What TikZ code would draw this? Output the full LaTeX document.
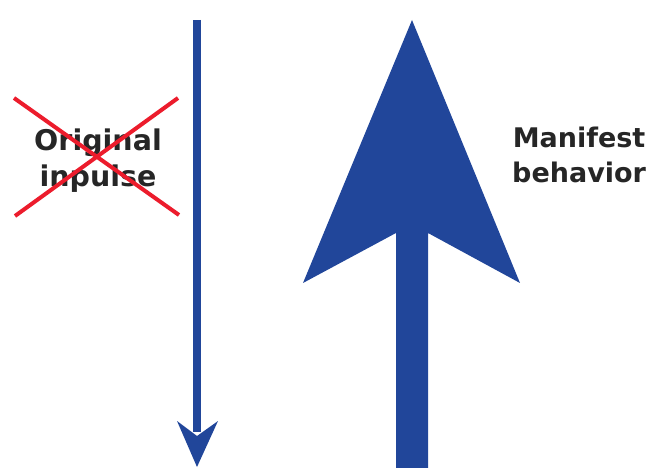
\documentclass[tikz,border=0pt]{standalone}
\usepackage{fontspec}
\setmainfont{DejaVu Sans}
\definecolor{arrowblue}{HTML}{21469A}
\definecolor{crossred}{HTML}{EC1C2C}
\definecolor{textgray}{HTML}{262626}
\tikzset{
  label/.style={font=\bfseries\fontsize{27}{35}\selectfont, text=textgray, align=center, inner sep=0pt},
  crossline/.style={draw=crossred, line width=4pt},
  thinshaft/.style={draw=arrowblue, line width=8pt},
}
\begin{document}
\begin{tikzpicture}[x=1pt,y=-1pt]
\useasboundingbox (0,0) rectangle (657,468);
% thin downward arrow
\coordinate (ts) at (197,20);
\coordinate (te) at (197,432);
\draw[thinshaft] (ts) -- (te);
\fill[arrowblue] (197,467) -- (177,421) -- (197,436) -- (218,421) -- cycle;
% big upward arrow
\fill[arrowblue] (412,20) -- (520,283) -- (428,233) -- (428,470) -- (396,470) -- (396,233) -- (303,283) -- cycle;
% labels
\node[label, font=\bfseries\fontsize{28.5}{36}\selectfont, anchor=base] (orig) at (98,187) {Original\\inpulse};
\node[label, anchor=base west] (man) at (512,183) {Manifest\\behavior};
% red cross
\coordinate (c1) at (14,98);
\coordinate (c2) at (179,215);
\coordinate (c3) at (178,98);
\coordinate (c4) at (15,216);
\draw[crossline] (c1) -- (c2);
\draw[crossline] (c3) -- (c4);
\end{tikzpicture}
\end{document}
